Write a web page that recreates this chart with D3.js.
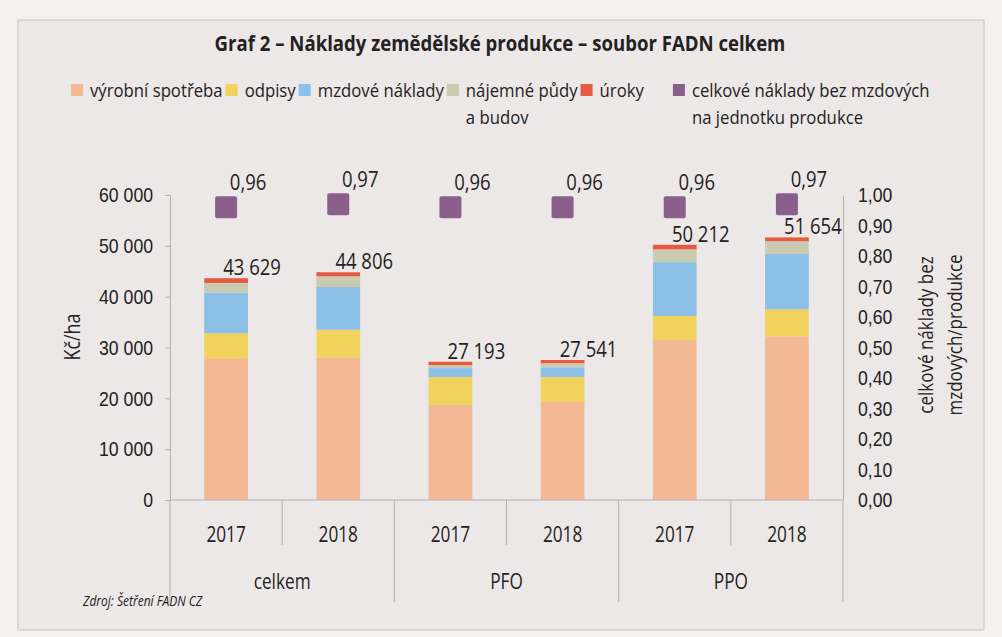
<!DOCTYPE html>
<html>
<head>
<meta charset="utf-8">
<script src="https://cdn.jsdelivr.net/npm/d3@7"></script>
<style>
  body { margin: 0; background: #f4f1f1; }
  svg { display: block; font-family: "Open Sans", "Noto Sans", sans-serif; }
</style>
</head>
<body>
<div id="chart"></div>
<script>
const groups = ['celkem', 'PFO', 'PPO']
const years = ['2017', '2018']

// Kč/ha
const vyrobniSpotreba = [27900, 28000, 18700, 19300, 31500, 32200]
const odpisy = [4900, 5500, 5500, 4900, 4700, 5300]
const mzdoveNaklady = [8000, 8400, 1750, 1900, 10600, 10900]
const najemne = [1900, 2100, 600, 800, 2500, 2500]
const uroky = [929, 806, 643, 641, 912, 754]
// celkové náklady bez mzdových na jednotku produkce
const nakladyNaJednotku = [0.96, 0.97, 0.96, 0.96, 0.96, 0.97]

const leftTicks = [0, 10000, 20000, 30000, 40000, 50000, 60000]
const rightTicks = [0, 0.1, 0.2, 0.3, 0.4, 0.5, 0.6, 0.7, 0.8, 0.9, 1.0]

const seriesNames = ['výrobní spotřeba', 'odpisy', 'mzdové náklady', 'nájemné půdy\na budov', 'úroky']
const seriesColors = ['#f3b995', '#f0d25c', '#8dc0e6', '#c9cbb1', '#e65a42']
const lineName = 'celkové náklady bez mzdových\nna jednotku produkce'
const lineColor = '#8b5f8b'

const width = 1002
const height = 637

const cz = d3.formatLocale({ decimal: ',', thousands: ' ', grouping: [3], currency: ['', ''] })
const fmtInt = cz.format(',')
const fmt2 = cz.format('.2f')

// the original uses a condensed face; squeeze Open Sans to match
function condense (sel, k) {
  sel.each(function () {
    const len = this.getComputedTextLength()
    d3.select(this).attr('textLength', len * k).attr('lengthAdjust', 'spacingAndGlyphs')
  })
}

const svg = d3.select('#chart')
  .append('svg')
  .attr('width', width)
  .attr('height', height)

svg.append('rect')
  .attr('x', 18).attr('y', 20)
  .attr('width', 966).attr('height', 610)
  .attr('fill', '#ede8e8')
  .attr('stroke', '#c8c2c2')

svg.append('text')
  .attr('x', 500).attr('y', 51)
  .attr('text-anchor', 'middle')
  .attr('font-weight', 'bold')
  .attr('font-size', 21)
  .attr('fill', '#222')
  .text('Graf 2 – Náklady zemědělské produkce – soubor FADN celkem')
  .call(condense, 0.885)

// rows of data
const cats = []
groups.forEach(g => years.forEach(y => cats.push({ group: g, year: y })))
const rows = cats.map((c, i) => ({
  i,
  group: c.group,
  year: c.year,
  s0: vyrobniSpotreba[i],
  s1: odpisy[i],
  s2: mzdoveNaklady[i],
  s3: najemne[i],
  s4: uroky[i],
  ratio: nakladyNaJednotku[i]
}))
rows.forEach(r => { r.total = r.s0 + r.s1 + r.s2 + r.s3 + r.s4 })

const x = d3.scaleBand()
  .domain(rows.map(r => r.i))
  .range([170, 843])

const y = d3.scaleLinear().domain([0, 60000]).range([500, 195])
const y2 = d3.scaleLinear().domain([0, 1]).range([500, 195])

const stack = d3.stack().keys(['s0', 's1', 's2', 's3', 's4'])
const layers = stack(rows)

const barW = x.bandwidth() * 0.39

svg.append('g')
  .selectAll('g')
  .data(layers)
  .join('g')
  .attr('fill', (d, i) => seriesColors[i])
  .selectAll('rect')
  .data(d => d)
  .join('rect')
  .attr('x', d => x(d.data.i) + x.bandwidth() / 2 - barW / 2)
  .attr('width', barW)
  .attr('y', d => y(d[1]))
  .attr('height', d => y(d[0]) - y(d[1]))

// axes
const axisColor = '#b5b0b0'
const numK = 0.84
const gl = svg.append('g')
  .attr('transform', 'translate(170,0)')
  .call(d3.axisLeft(y).tickValues(leftTicks).tickFormat(fmtInt).tickSize(5).tickPadding(12))
gl.select('.domain').attr('stroke', axisColor)
gl.selectAll('.tick line').attr('stroke', axisColor)
gl.selectAll('.tick text').attr('font-size', 21).attr('fill', '#222').attr('font-family', null)
  .call(condense, numK)

const gr = svg.append('g')
  .attr('transform', 'translate(843,0)')
  .call(d3.axisRight(y2).tickValues(rightTicks).tickFormat(fmt2).tickSize(0).tickPadding(15))
gr.select('.domain').attr('stroke', axisColor)
gr.selectAll('.tick text').attr('font-size', 21).attr('fill', '#222').attr('font-family', null)
  .call(condense, numK)

// category axis
svg.append('line')
  .attr('x1', 170).attr('x2', 843)
  .attr('y1', 500).attr('y2', 500)
  .attr('stroke', axisColor)

const bounds = d3.range(rows.length + 1).map(k => k < rows.length ? x(k) : x.range()[1])
svg.append('g')
  .selectAll('line')
  .data(bounds)
  .join('line')
  .attr('x1', d => d).attr('x2', d => d)
  .attr('y1', 500)
  .attr('y2', (d, k) => k % years.length === 0 ? 602 : 545)
  .attr('stroke', axisColor)

svg.append('g')
  .selectAll('text')
  .data(rows)
  .join('text')
  .attr('x', d => x(d.i) + x.bandwidth() / 2)
  .attr('y', 542)
  .attr('text-anchor', 'middle')
  .attr('font-size', 21)
  .attr('fill', '#222')
  .text(d => d.year)
  .call(condense, 0.82)

svg.append('g')
  .selectAll('text')
  .data(groups)
  .join('text')
  .attr('x', (d, k) => (bounds[k * years.length] + bounds[(k + 1) * years.length]) / 2)
  .attr('y', 589)
  .attr('text-anchor', 'middle')
  .attr('font-size', 21)
  .attr('fill', '#222')
  .text(d => d)
  .call(condense, 0.82)

// total labels
svg.append('g')
  .selectAll('text')
  .data(rows)
  .join('text')
  .attr('x', d => x(d.i) + x.bandwidth() / 2 + 26)
  .attr('y', d => y(d.total) - 3)
  .attr('text-anchor', 'middle')
  .attr('font-size', 21)
  .attr('fill', '#222')
  .text(d => fmtInt(d.total))
  .call(condense, 0.88)

// ratio markers
const sq = 22
svg.append('g')
  .selectAll('rect')
  .data(rows)
  .join('rect')
  .attr('x', d => x(d.i) + x.bandwidth() / 2 - sq / 2)
  .attr('y', d => y2(d.ratio) - sq / 2)
  .attr('width', sq)
  .attr('height', sq)
  .attr('rx', 2)
  .attr('fill', lineColor)

svg.append('g')
  .selectAll('text')
  .data(rows)
  .join('text')
  .attr('x', d => x(d.i) + x.bandwidth() / 2 + 22)
  .attr('y', d => y2(d.ratio) - 17)
  .attr('text-anchor', 'middle')
  .attr('font-size', 21)
  .attr('fill', '#222')
  .text(d => fmt2(d.ratio))
  .call(condense, 0.88)

// axis titles
svg.append('text')
  .attr('transform', 'translate(80,337) rotate(-90)')
  .attr('text-anchor', 'middle')
  .attr('font-size', 21)
  .attr('fill', '#222')
  .text('Kč/ha')
  .call(condense, 0.85)

const rt = svg.append('text')
  .attr('transform', 'translate(933,335) rotate(-90)')
  .attr('text-anchor', 'middle')
  .attr('font-size', 20)
  .attr('fill', '#222')
rt.append('tspan').attr('x', 0).attr('dy', 0).text('celkové náklady bez')
rt.append('tspan').attr('x', 0).attr('dy', 29).text('mzdových/produkce')
rt.selectAll('tspan').call(condense, 0.85)

// legend
const legendItems = seriesNames.map((n, i) => ({ name: n, color: seriesColors[i] }))
  .concat([{ name: lineName, color: lineColor }])
const legend = svg.append('g')
let lx = 71
legendItems.forEach((it, k) => {
  if (k === legendItems.length - 1) lx += 26
  legend.append('rect')
    .attr('x', lx).attr('y', 84)
    .attr('width', 12).attr('height', 12)
    .attr('fill', it.color)
  const t = legend.append('text')
    .attr('x', lx + 19)
    .attr('y', 97)
    .attr('font-size', 19)
    .attr('fill', '#222')
  it.name.split('\n').forEach((line, j) => {
    t.append('tspan').attr('x', lx + 19).attr('dy', j === 0 ? 0 : 27).text(line)
  })
  const spans = t.selectAll('tspan')
  spans.call(condense, 0.88)
  const w = d3.max(spans.nodes(), n => +n.getAttribute('textLength'))
  lx += 19 + w + 3
})

svg.append('text')
  .attr('x', 83).attr('y', 606)
  .attr('font-size', 15)
  .attr('font-style', 'italic')
  .attr('fill', '#222')
  .text('Zdroj: Šetření FADN CZ')
  .call(condense, 0.8)
</script>
</body>
</html>
